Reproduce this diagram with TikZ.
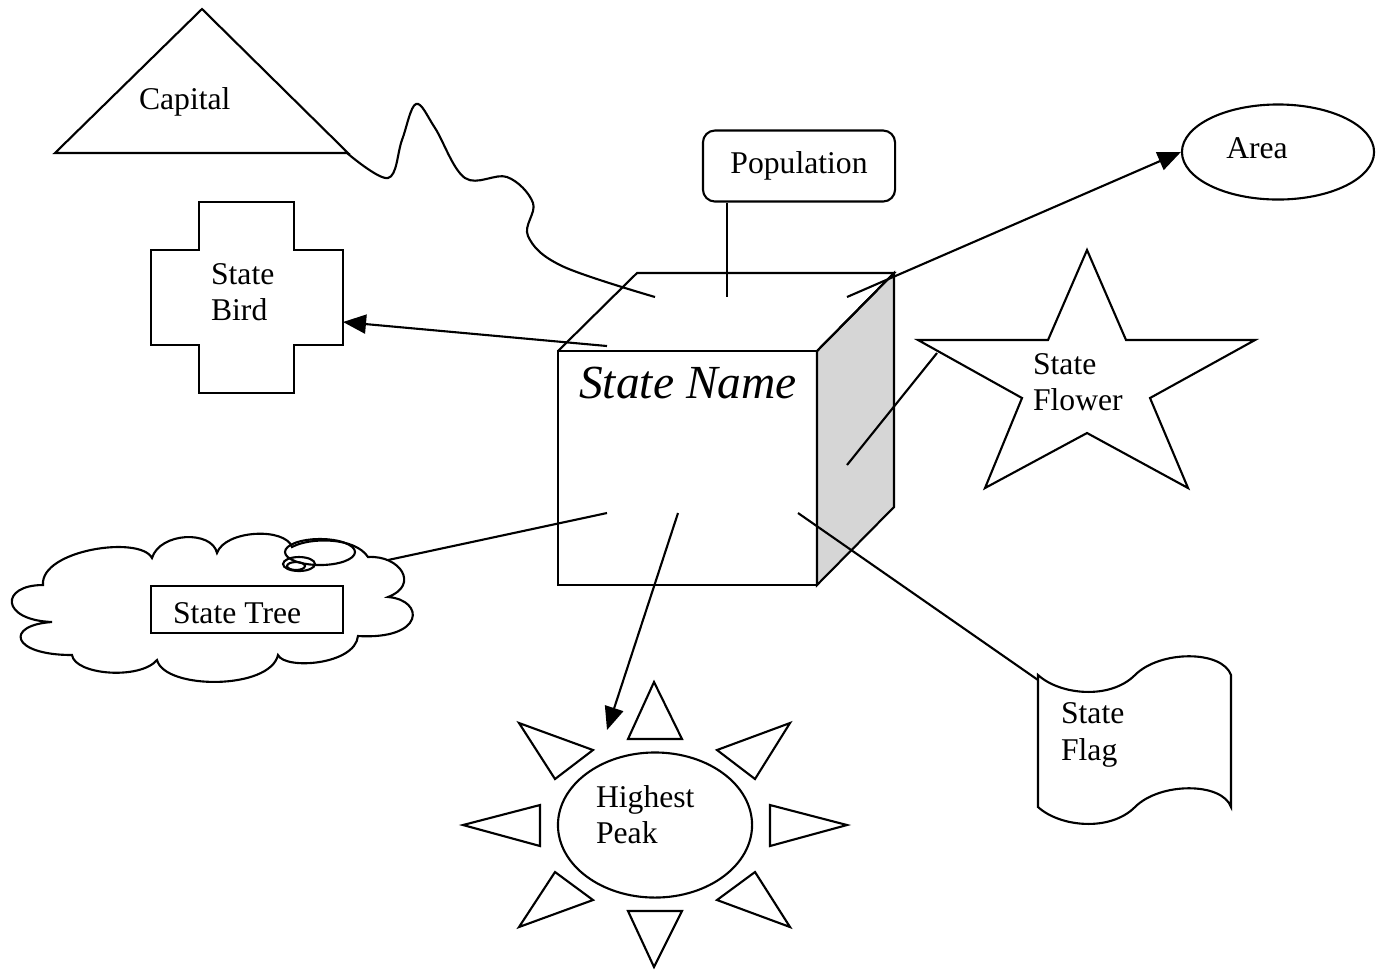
\documentclass[tikz,border=0pt]{standalone}
\usepackage{fontspec}
\setmainfont{Liberation Serif}
\usetikzlibrary{arrows.meta,shapes.geometric}

\begin{document}
\begin{tikzpicture}[x=0.01cm, y=-0.01cm, line width=0.6pt,
    lbl/.style={inner sep=0pt, align=left, anchor=west, font=\fontsize{9}{10.3}\selectfont},
    arr/.style={-{Triangle[length=2.3mm,width=1.9mm]}},
    oval/.style={draw, ellipse, inner sep=0pt}]

    \useasboundingbox (0,0) rectangle (1380,969);

    % the cube
    \draw[fill=black!16] (817,351) -- (894,273) -- (894,507) -- (817,585) -- cycle;
    \draw (558,351) -- (637,273) -- (894,273) -- (817,351);
    \draw (558,351) rectangle (817,585);
    \node[font=\fontsize{13.5}{15}\selectfont\itshape] (sname) at (688,383) {State Name};

    \coordinate (c-cap) at (655,297);
    \coordinate (c-pop) at (727,297);
    \coordinate (c-area) at (847,297);
    \coordinate (c-bird) at (607,346);
    \coordinate (c-flower) at (847,465);
    \coordinate (c-tree) at (607,513);
    \coordinate (c-peak) at (678,513);
    \coordinate (c-flag) at (798,513);

    % capital
    \draw (55,153) -- (202,9) -- (348,153) -- cycle;
    \node[lbl] (capital) at (138,102) {Capital};
    \coordinate (cap-e) at (347,153);
    \draw plot[smooth, tension=0.6] coordinates {(cap-e) (388,178) (402,140) (416,104) (435,128)
        (465,178) (507,177) (533,203) (528,236) (562,266) (c-cap)};

    % population
    \node[draw, rounded corners=1.2mm, minimum width=1.92cm, minimum height=0.71cm,
        font=\fontsize{9}{10.3}\selectfont] (pop) at (799,166) {Population};
    \draw (pop.south -| c-pop) -- (c-pop);

    % area
    \node[oval, minimum width=1.92cm, minimum height=0.95cm] (area) at (1278,152) {};
    \node[lbl, anchor=center] (areatxt) at (1257,148) {Area};
    \draw[arr] (c-area) -- (area.west);

    % bird
    \draw (199,202) -- (294,202) -- (294,250) -- (343,250) -- (343,345) -- (294,345) -- (294,393)
        -- (199,393) -- (199,345) -- (151,345) -- (151,250) -- (199,250) -- cycle;
    \node[lbl] (bird) at (210,292) {State\\Bird};
    \coordinate (bird-e) at (343,322);
    \draw[arr] (c-bird) -- (bird-e);

    % flower
    \draw (1087,250) -- (1126,340) -- (1255,340) -- (1150,398) -- (1188,488) -- (1087,433)
        -- (985,488) -- (1022,398) -- (918,340) -- (1048,340) -- cycle;
    \node[lbl] (flower) at (1032,382) {State\\Flower};
    \coordinate (star-w) at (937,353);
    \draw (c-flower) -- (star-w);

    % tree
    \draw (43,585) .. controls (40,550) and (140,535) .. (152,558)
        .. controls (160,532) and (212,530) .. (217,553)
        .. controls (225,530) and (285,527) .. (292,547)
        .. controls (310,537) and (355,537) .. (368,557)
        .. controls (400,555) and (420,585) .. (388,597)
        .. controls (425,600) and (425,640) .. (358,636)
        .. controls (355,665) and (285,670) .. (278,655)
        .. controls (270,690) and (165,690) .. (157,660)
        .. controls (140,680) and (75,675) .. (72,655)
        .. controls (10,655) and (5,625) .. (52,622)
        .. controls (0,620) and (0,585) .. (43,585) -- cycle;
    \draw (320,552) ellipse [x radius=35, y radius=13];
    \draw (299,564) ellipse [x radius=16, y radius=7];
    \draw (296,566) ellipse [x radius=9, y radius=4];
    \node[draw, fill=white, minimum width=1.92cm, minimum height=0.47cm, inner sep=0pt] (treebox) at (247,609.5) {};
    \node[lbl] (tree) at (172,613) {State Tree};
    \coordinate (cloud-ne) at (388,560);
    \draw (c-tree) -- (cloud-ne);

    % highest peak
    \node[oval, minimum width=1.94cm, minimum height=1.45cm] (sun) at (655,825) {};
    \node[lbl] (peak) at (595,815) {Highest\\Peak};
    \draw (628,739) -- (682,739) -- (654,682) -- cycle;
    \draw (628,911) -- (682,911) -- (654,967) -- cycle;
    \draw (540,805) -- (540,846) -- (463,825) -- cycle;
    \draw (770,805) -- (770,846) -- (847,825) -- cycle;
    \draw (519,723) -- (593,750) -- (555,779) -- cycle;
    \draw (790,723) -- (717,750) -- (755,779) -- cycle;
    \draw (555,872) -- (593,900) -- (519,927) -- cycle;
    \draw (755,872) -- (717,900) -- (790,927) -- cycle;
    \coordinate (sun-tip) at (607,730);
    \draw[arr] (c-peak) -- (sun-tip);

    % flag
    \draw (1038,675) .. controls (1060,695) and (1110,700) .. (1135,675)
        .. controls (1160,650) and (1222,650) .. (1231,675) -- (1231,807)
        .. controls (1222,782) and (1160,782) .. (1135,807)
        .. controls (1110,832) and (1060,827) .. (1038,807) -- cycle;
    \node[lbl] (flag) at (1060,735) {State\\Flag};
    \coordinate (flag-nw) at (1038,680);
    \draw (c-flag) -- (flag-nw);
\end{tikzpicture}
\end{document}
